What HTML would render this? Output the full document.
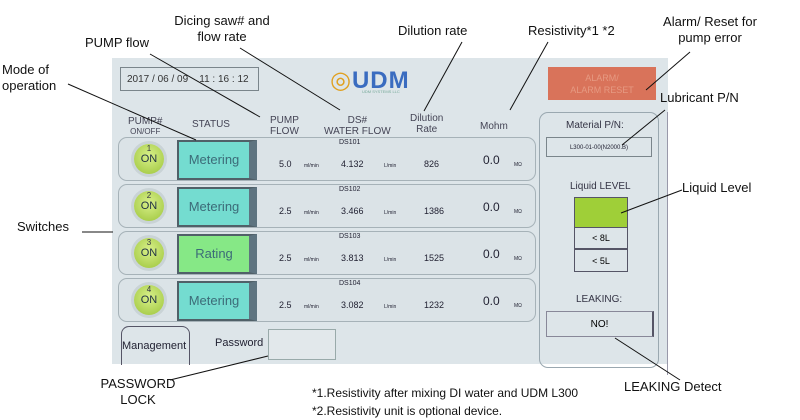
<!DOCTYPE html>
<html><head><meta charset="utf-8"><style>
body{margin:0;width:800px;height:420px;background:#fff;position:relative;overflow:hidden;font-family:"Liberation Sans","DejaVu Sans",sans-serif;color:#000}
.a{position:absolute}
.scr{left:112px;top:58px;width:556px;height:306px;background:#dde5e9}
.lab{position:absolute;font-size:13px;line-height:16px;text-align:center;color:#111}
.g{color:#445;font-size:10px}
.row{position:absolute;left:118px;width:416px;height:42px;border:1.5px solid #a6b2b8;border-radius:9px;background:#dbe3e7}
.btn{position:absolute;left:15px;top:6px;width:30px;height:30px;border-radius:50%;background:radial-gradient(circle at 50% 40%,#d8f08a,#9cc43a);box-shadow:0 0 0 3px #c9d3d6;text-align:center;font-size:8px;line-height:10px;color:#334}
.btn b{display:block;font-weight:normal;font-size:11px;color:#234}
.st{position:absolute;left:58px;top:2px;width:70px;height:36px;border:2px solid #506068;border-right:8px solid #5e7480;font-size:13px;color:#3c6b78;text-align:center;line-height:36px}
.t{position:absolute;font-size:9px;color:#223}
.s{position:absolute;font-size:5px;color:#223}
</style></head><body>
<div class="a scr"></div>
<div class="a" style="left:120px;top:67px;width:139px;height:24px;border:1px solid #7a858b;font-size:10px;line-height:24px;color:#333;padding-left:6px;box-sizing:border-box">2017 / 06 / 09 &nbsp;&nbsp; 11 : 16 : 12</div>
<div class="a" style="left:330px;top:66px;font-size:24px;font-weight:bold;color:#3a6cc0;letter-spacing:1px"><span style="color:#e0a020;font-weight:normal">◎</span>UDM</div>
<div class="a" style="left:362px;top:89px;font-size:4px;color:#7a9">UDM SYSTEMS LLC</div>
<div class="a" style="left:548px;top:67px;width:108px;height:33px;background:#d9735a;color:#e69a82;font-size:9px;text-align:center;line-height:12px;padding-top:5px;box-sizing:border-box">ALARM/<br>ALARM RESET</div>
<div class="a g" style="left:128px;top:117px;text-align:center;line-height:10px">PUMP#<br><span style="font-size:8px">ON/OFF</span></div>
<div class="a g" style="left:192px;top:119px">STATUS</div>
<div class="a g" style="left:270px;top:115px;text-align:center;line-height:11px">PUMP<br>FLOW</div>
<div class="a g" style="left:324px;top:115px;text-align:center;line-height:11px">DS#<br>WATER FLOW</div>
<div class="a g" style="left:410px;top:113px;text-align:center;line-height:11px">Dilution<br>Rate</div>
<div class="a g" style="left:480px;top:121px">Mohm</div>

<div class="row" style="top:137px"><div class="btn">1<b>ON</b></div><div class="st" style="background:#74dcd0">Metering</div><span class="t" style="left:220px;top:1px;font-size:7px">DS101</span><span class="t" style="left:160px;top:21px">5.0</span><span class="s" style="left:185px;top:25px">ml/min</span><span class="t" style="left:222px;top:21px">4.132</span><span class="s" style="left:265px;top:25px">L/min</span><span class="t" style="left:305px;top:21px">826</span><span class="t" style="left:364px;top:15px;font-size:12px">0.0</span><span class="s" style="left:395px;top:24px">MΩ</span></div>
<div class="row" style="top:184px"><div class="btn">2<b>ON</b></div><div class="st" style="background:#74dcd0">Metering</div><span class="t" style="left:220px;top:1px;font-size:7px">DS102</span><span class="t" style="left:160px;top:21px">2.5</span><span class="s" style="left:185px;top:25px">ml/min</span><span class="t" style="left:222px;top:21px">3.466</span><span class="s" style="left:265px;top:25px">L/min</span><span class="t" style="left:305px;top:21px">1386</span><span class="t" style="left:364px;top:15px;font-size:12px">0.0</span><span class="s" style="left:395px;top:24px">MΩ</span></div>
<div class="row" style="top:231px"><div class="btn">3<b>ON</b></div><div class="st" style="background:#86e886">Rating</div><span class="t" style="left:220px;top:1px;font-size:7px">DS103</span><span class="t" style="left:160px;top:21px">2.5</span><span class="s" style="left:185px;top:25px">ml/min</span><span class="t" style="left:222px;top:21px">3.813</span><span class="s" style="left:265px;top:25px">L/min</span><span class="t" style="left:305px;top:21px">1525</span><span class="t" style="left:364px;top:15px;font-size:12px">0.0</span><span class="s" style="left:395px;top:24px">MΩ</span></div>
<div class="row" style="top:278px"><div class="btn">4<b>ON</b></div><div class="st" style="background:#74dcd0">Metering</div><span class="t" style="left:220px;top:1px;font-size:7px">DS104</span><span class="t" style="left:160px;top:21px">2.5</span><span class="s" style="left:185px;top:25px">ml/min</span><span class="t" style="left:222px;top:21px">3.082</span><span class="s" style="left:265px;top:25px">L/min</span><span class="t" style="left:305px;top:21px">1232</span><span class="t" style="left:364px;top:15px;font-size:12px">0.0</span><span class="s" style="left:395px;top:24px">MΩ</span></div>

<div class="a" style="left:121px;top:326px;width:67px;height:38px;border:1.5px solid #556;border-bottom:none;border-radius:8px 8px 0 0;font-size:11px;line-height:38px;color:#223">Management</div>
<div class="a" style="left:215px;top:337px;font-size:11px;color:#223">Password</div>
<div class="a" style="left:268px;top:329px;width:66px;height:29px;border:1px solid #9aa;background:#e2e8eb"></div>

<div class="a" style="left:539px;top:112px;width:120px;height:256px;border:1.5px solid #9aa8b0;border-radius:9px;box-sizing:border-box"></div>
<div class="a" style="left:566px;top:120px;font-size:10px;color:#334">Material P/N:</div>
<div class="a" style="left:546px;top:137px;width:106px;height:20px;border:1px solid #7a858b;font-size:6px;text-align:center;line-height:20px;box-sizing:border-box;color:#223">L300-01-00(N2000.B)</div>
<div class="a" style="left:570px;top:181px;font-size:10px;color:#334">Liquid LEVEL</div>
<div class="a" style="left:574px;top:197px;width:54px;height:31px;background:#9fcf38;border:1px solid #556;box-sizing:border-box"></div>
<div class="a" style="left:574px;top:228px;width:54px;height:21px;border:1px solid #556;border-top:none;box-sizing:border-box;font-size:9px;text-align:center;line-height:20px">&lt; 8L</div>
<div class="a" style="left:574px;top:249px;width:54px;height:23px;border:1px solid #556;box-sizing:border-box;font-size:9px;text-align:center;line-height:22px">&lt; 5L</div>
<div class="a" style="left:576px;top:294px;font-size:10px;color:#334">LEAKING:</div>
<div class="a" style="left:546px;top:311px;width:108px;height:26px;border:1px solid #889;border-right:2px solid #556;box-sizing:border-box;font-size:10px;text-align:center;line-height:25px">NO!</div>
<div class="a" style="left:667px;top:112px;width:1px;height:263px;background:#99a"></div>

<div class="lab" style="left:2px;top:62px;width:68px;text-align:left">Mode of<br>operation</div>
<div class="lab" style="left:85px;top:35px">PUMP flow</div>
<div class="lab" style="left:162px;top:13px;width:120px">Dicing saw# and<br>flow rate</div>
<div class="lab" style="left:398px;top:23px">Dilution rate</div>
<div class="lab" style="left:528px;top:23px">Resistivity*1 *2</div>
<div class="lab" style="left:650px;top:14px;width:120px">Alarm/ Reset for<br>pump error</div>
<div class="lab" style="left:660px;top:90px">Lubricant P/N</div>
<div class="lab" style="left:682px;top:180px">Liquid Level</div>
<div class="lab" style="left:17px;top:219px">Switches</div>
<div class="lab" style="left:98px;top:376px;width:80px">PASSWORD<br>LOCK</div>
<div class="lab" style="left:624px;top:379px">LEAKING Detect</div>
<div class="lab" style="left:312px;top:384px;text-align:left;font-size:12px;line-height:18px">*1.Resistivity after mixing DI water and UDM L300<br>*2.Resistivity unit is optional device.</div>

<svg class="a" style="left:0;top:0" width="800" height="420"><g stroke="#111" stroke-width="1" fill="none">
<line x1="68" y1="84" x2="196" y2="140"/>
<line x1="150" y1="54" x2="260" y2="117"/>
<line x1="240" y1="48" x2="340" y2="110"/>
<line x1="462" y1="42" x2="424" y2="111"/>
<line x1="548" y1="42" x2="510" y2="110"/>
<line x1="690" y1="52" x2="646" y2="90"/>
<line x1="665" y1="110" x2="622" y2="145"/>
<line x1="682" y1="190" x2="621" y2="213"/>
<line x1="82" y1="232" x2="113" y2="232"/>
<line x1="170" y1="380" x2="268" y2="356"/>
<line x1="680" y1="380" x2="615" y2="338"/>
</g></svg>
</body></html>
